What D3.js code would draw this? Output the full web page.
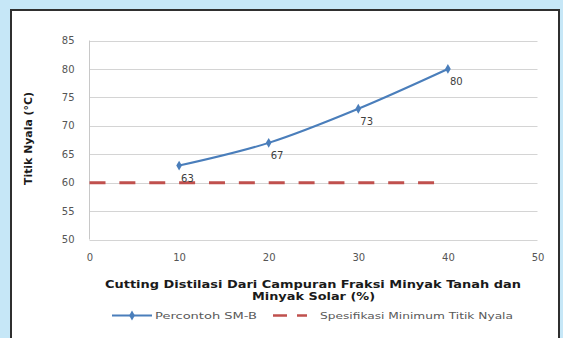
<!DOCTYPE html>
<html>
<head>
<meta charset="utf-8">
<script src="https://cdn.jsdelivr.net/npm/d3@7"></script>
<style>
  body { margin: 0; background: #c6e7f7; }
  svg { display: block; }
</style>
</head>
<body>
<div id="chart"></div>
<script>
//          Chart data
var xValues = [10, 20, 30, 40];
var yValues = [63, 67, 73, 80];
var specX = [0, 40];
var specY = [60, 60];
var xTicks = [0, 10, 20, 30, 40, 50];
var yTicks = [50, 55, 60, 65, 70, 75, 80, 85];
var seriesNames = ["Percontoh SM-B", "Spesifikasi Minimum Titik Nyala"];

//          Chart settings
var W = 563, H = 338;
var plotLeft = 89.5, plotRight = 537.5, plotTop = 40.5, plotBottom = 239.5;
var blue = "#4a7ebb", red = "#c0504d";
var font = "'DejaVu Sans', Verdana, sans-serif";

var svg = d3.select("#chart").append("svg")
    .attr("width", W)
    .attr("height", H);

// white panel
svg.append("rect")
    .attr("x", 11).attr("y", 10)
    .attr("width", 548).attr("height", 340)
    .style("fill", "white")
    .style("stroke", "#2f2f2f")
    .style("stroke-width", 2);

var x = d3.scaleLinear().domain([0, 50]).range([plotLeft, plotRight]);
var y = d3.scaleLinear().domain([50, 85]).range([plotBottom, plotTop]);

// gridlines
svg.append("g").selectAll("line").data(yTicks).enter().append("line")
    .attr("x1", plotLeft).attr("x2", plotRight)
    .attr("y1", function(d) { return Math.round(y(d)) + 0.5; })
    .attr("y2", function(d) { return Math.round(y(d)) + 0.5; })
    .style("stroke", "#d4d4d4")
    .style("stroke-width", 1);

// y axis line
svg.append("line")
    .attr("x1", plotLeft).attr("x2", plotLeft)
    .attr("y1", plotTop).attr("y2", plotBottom)
    .style("stroke", "#c8c8c8");

// y tick labels
var yAxis = d3.axisLeft(y).tickValues(yTicks).tickSize(0).tickPadding(15);
var gy = svg.append("g").attr("transform", "translate(" + plotLeft + ",0)").call(yAxis);
gy.select(".domain").remove();
gy.selectAll("text").style("font-family", font).style("font-size", "10px").style("fill", "#555");

// x tick labels
var xAxis = d3.axisBottom(x).tickValues(xTicks).tickSize(0).tickPadding(14);
var gx = svg.append("g").attr("transform", "translate(0," + plotBottom + ")").call(xAxis);
gx.select(".domain").remove();
gx.selectAll("text").style("font-family", font).style("font-size", "10px").style("fill", "#555");

// spec dashed line
var line = d3.line().x(function(d) { return x(d[0]); }).y(function(d) { return y(d[1]); });
svg.append("path")
    .datum(d3.zip(specX, specY))
    .attr("d", line)
    .style("fill", "none")
    .style("stroke", red)
    .style("stroke-width", 3)
    .style("stroke-dasharray", "16,13.87");

// series line
var curve = d3.line().curve(d3.curveMonotoneX)
    .x(function(d) { return x(d[0]); }).y(function(d) { return y(d[1]); });
svg.append("path")
    .datum(d3.zip(xValues, yValues))
    .attr("d", curve)
    .style("fill", "none")
    .style("stroke", blue)
    .style("stroke-width", 2);

var diamond = d3.symbol().type(d3.symbolDiamond).size(28);
svg.selectAll("marker1").data(d3.zip(xValues, yValues)).enter().append("path")
    .attr("d", diamond)
    .attr("transform", function(d) { return "translate(" + x(d[0]) + "," + y(d[1]) + ")"; })
    .style("fill", blue);

// data labels
svg.selectAll("label1").data(d3.zip(xValues, yValues)).enter().append("text")
    .text(function(d) { return d[1]; })
    .attr("x", function(d) { return x(d[0]) + 2; })
    .attr("y", function(d) { return y(d[1]) + 16.5; })
    .style("font-family", font)
    .style("font-size", "10px")
    .style("fill", "#404040");

// axis titles
svg.append("text")
    .attr("transform", "translate(31.5,138.5) rotate(-90)")
    .attr("text-anchor", "middle")
    .attr("textLength", 93).attr("lengthAdjust", "spacingAndGlyphs")
    .text("Titik Nyala (°C)")
    .style("font-family", font).style("font-size", "10px").style("font-weight", "bold").style("fill", "#1a1a1a");

var xt = svg.append("g")
    .style("font-family", font).style("font-size", "10px").style("font-weight", "bold").style("fill", "#1a1a1a");
xt.append("text").attr("x", 105).attr("y", 287.5)
    .attr("textLength", 416).attr("lengthAdjust", "spacingAndGlyphs")
    .text("Cutting Distilasi Dari Campuran Fraksi Minyak Tanah dan");
xt.append("text").attr("x", 252).attr("y", 300)
    .attr("textLength", 123).attr("lengthAdjust", "spacingAndGlyphs")
    .text("Minyak Solar (%)");

// legend
var legY = 315.5;
svg.append("line")
    .attr("x1", 112).attr("x2", 152).attr("y1", legY).attr("y2", legY)
    .style("stroke", blue).style("stroke-width", 2);
svg.append("path").attr("d", diamond)
    .attr("transform", "translate(132," + legY + ")")
    .style("fill", blue);
svg.append("text")
    .attr("x", 155).attr("y", legY + 3.5)
    .attr("textLength", 102).attr("lengthAdjust", "spacingAndGlyphs")
    .text(seriesNames[0])
    .style("font-family", font).style("font-size", "9px").style("fill", "#595959");

svg.append("line")
    .attr("x1", 273).attr("x2", 307).attr("y1", legY).attr("y2", legY)
    .style("stroke", red).style("stroke-width", 2.5)
    .style("stroke-dasharray", "14,10");
svg.append("text")
    .attr("x", 320).attr("y", legY + 3.5)
    .attr("textLength", 193).attr("lengthAdjust", "spacingAndGlyphs")
    .text(seriesNames[1])
    .style("font-family", font).style("font-size", "9px").style("fill", "#595959");
</script>
</body>
</html>
